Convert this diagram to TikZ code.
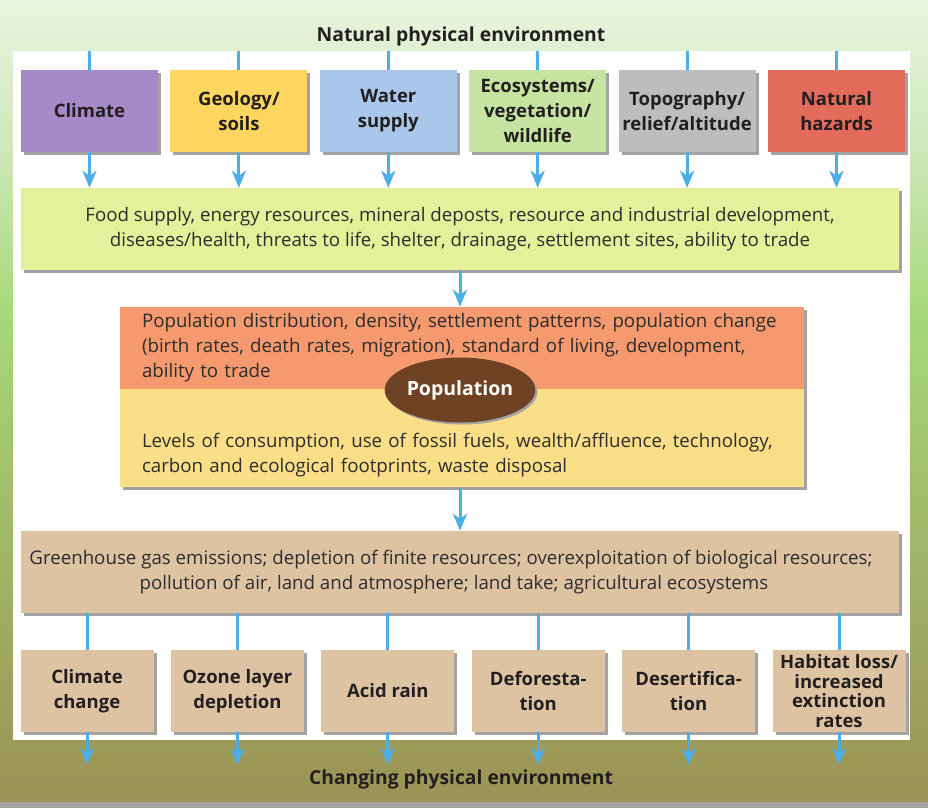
\documentclass[tikz,border=0pt]{standalone}
\usepackage{fontspec}
\setmainfont{Open Sans}
\usepackage{tikz}
\usetikzlibrary{
  positioning,
  arrows.meta,
  shapes.geometric,
  shadows
}
\definecolor{envtop}{RGB}{234,244,223}
\definecolor{envhigh}{RGB}{205,232,184}
\definecolor{envgreen}{RGB}{164,216,119}
\definecolor{envmid}{RGB}{160,180,104}
\definecolor{envolive}{RGB}{155,147,85}
\definecolor{shadowgray}{RGB}{163,163,163}
\definecolor{flowblue}{RGB}{77,174,229}
\definecolor{labeltext}{RGB}{35,31,32}
\definecolor{bodytext}{RGB}{45,45,45}
\definecolor{climatebg}{RGB}{166,137,200}
\definecolor{geologybg}{RGB}{253,213,95}
\definecolor{waterbg}{RGB}{169,199,234}
\definecolor{ecobg}{RGB}{198,227,162}
\definecolor{topobg}{RGB}{189,189,189}
\definecolor{hazardbg}{RGB}{227,107,91}
\definecolor{resourcebg}{RGB}{229,240,155}
\definecolor{popupper}{RGB}{245,154,111}
\definecolor{poplower}{RGB}{251,223,136}
\definecolor{impactbg}{RGB}{222,195,163}
\definecolor{popbrown}{RGB}{110,66,35}
% tikz fits the path onto 25bp--75bp of the shading
\pgfdeclareverticalshading{envshade}{100bp}{
  color(0bp)=(envolive); color(25bp)=(envolive); color(40bp)=(envmid);
  color(55bp)=(envgreen); color(65.5bp)=(envhigh); color(75bp)=(envtop);
  color(100bp)=(envtop)}
\tikzset{
  boxshadow/.style={
    drop shadow={shadow xshift=3pt, shadow yshift=-3pt, fill=shadowgray, opacity=1}
  },
  factorbox/.style={
    boxshadow, minimum width=137pt, minimum height=82pt, inner xsep=2pt,
    font=\fontsize{18.5}{25}\selectfont\bfseries, text=labeltext, align=center
  },
  widebox/.style={
    boxshadow, minimum width=878pt, minimum height=82pt,
    font=\fontsize{18.7}{25}\selectfont, text=bodytext, align=center
  },
  popbox/.style={
    boxshadow, minimum width=684pt, inner xsep=22pt, text width=640pt,
    font=\fontsize{18.7}{25}\selectfont, text=bodytext, align=left
  },
  issuebox/.style={
    boxshadow, fill=impactbg, minimum width=133pt, minimum height=82pt, inner xsep=2pt,
    font=\fontsize{18.5}{25}\selectfont\bfseries, text=labeltext, align=center
  },
  titletext/.style={
    font=\fontsize{19.3}{22}\selectfont\bfseries, text=labeltext
  },
  flowline/.style={
    draw=flowblue, line width=3pt
  },
  flowarrow/.style={
    flowline, -{Stealth[length=17pt, width=14pt, inset=5pt]}
  }
}

\begin{document}
\begin{tikzpicture}[x=1pt, y=-1pt]
  \useasboundingbox (0,0) rectangle (928,808);

  % frame
  \fill[shadowgray] (0,801) rectangle (928,808);
  \shade[shading=envshade] (0,0) rectangle (928,801);
  \node[fill=white, minimum width=897pt, minimum height=689pt, inner sep=0pt] (panel) at (461.5,395.5) {};
  \coordinate (outEdge) at (0,765);

  \node[titletext] (topTitle) at (461,36) {Natural physical environment};
  \node[titletext] (bottomTitle) at (461,779) {Changing physical environment};

  % physical factors
  \node[factorbox, fill=climatebg] (f1) at (89.5,111) {Climate};
  \node[factorbox, fill=geologybg, right=12pt of f1] (f2) {Geology/\\soils};
  \node[factorbox, fill=waterbg, right=12pt of f2] (f3) {Water\\supply};
  \node[factorbox, fill=ecobg, right=12pt of f3] (f4) {Ecosystems/\\vegetation/\\wildlife};
  \node[factorbox, fill=topobg, right=12pt of f4] (f5) {Topography/\\relief/altitude};
  \node[factorbox, fill=hazardbg, right=12pt of f5] (f6) {Natural\\hazards};

  \node[widebox, fill=resourcebg] (food) at (460,229) {
    Food supply, energy resources, mineral deposts, resource and industrial development,\\
    diseases/health, threats to life, shelter, drainage, settlement sites, ability to trade
  };

  % population
  \node[popbox, fill=popupper, minimum height=82pt] (popTop) at (462,348) {
    Population distribution, density, settlement patterns, population change\\
    (birth rates, death rates, migration), standard of living, development,\\
    ability to trade
  };
  \node[popbox, fill=poplower, minimum height=98pt, below=0pt of popTop] (popBot) {
    \mbox{}\\[22pt]
    Levels of consumption, use of fossil fuels, wealth/affluence, technology,\\
    carbon and ecological footprints, waste disposal
  };
  \node[ellipse, fill=popbrown, minimum width=144pt, minimum height=65pt, inner sep=0pt,
    drop shadow={shadow xshift=2pt, shadow yshift=-2pt, fill=shadowgray, opacity=1},
    text=white, font=\fontsize{19.5}{22}\selectfont\bfseries] (popEll) at (460,390) {Population};

  \node[widebox, fill=impactbg] (ghg) at (460,572) {
    Greenhouse gas emissions; depletion of finite resources; overexploitation of biological resources;\kern18pt\\
    pollution of air, land and atmosphere; land take; agricultural ecosystems\kern12pt
  };

  % impacts
  \node[issuebox] (i1) at (87,691) {Climate\\change};
  \node[issuebox, right=17pt of i1] (i2) {Ozone layer\\depletion};
  \node[issuebox, right=17pt of i2] (i3) {Acid rain};
  \node[issuebox, right=17pt of i3] (i4) {Deforesta-\\tion};
  \node[issuebox, right=17pt of i4] (i5) {Desertifica-\\tion};
  \node[issuebox, right=17pt of i5, font=\fontsize{18.5}{19.5}\selectfont\bfseries] (i6) {Habitat loss/\\increased\\extinction\\rates};

  \draw[flowline] (f1.north |- panel.north) -- (f1.north);
  \draw[flowline] (f2.north |- panel.north) -- (f2.north);
  \draw[flowline] (f3.north |- panel.north) -- (f3.north);
  \draw[flowline] (f4.north |- panel.north) -- (f4.north);
  \draw[flowline] (f5.north |- panel.north) -- (f5.north);
  \draw[flowline] (f6.north |- panel.north) -- (f6.north);

  \draw[flowarrow] (f1.south) -- (f1.south |- food.north);
  \draw[flowarrow] (f2.south) -- (f2.south |- food.north);
  \draw[flowarrow] (f3.south) -- (f3.south |- food.north);
  \draw[flowarrow] (f4.south) -- (f4.south |- food.north);
  \draw[flowarrow] (f5.south) -- (f5.south |- food.north);
  \draw[flowarrow] (f6.south) -- (f6.south |- food.north);

  \draw[flowarrow] (food.south -| popEll) -- (popEll |- popTop.north);
  \draw[flowarrow] (popBot.south -| popEll) -- (popEll |- ghg.north);

  \draw[flowline] (i1.north |- ghg.south) -- (i1.north);
  \draw[flowline] (i2.north |- ghg.south) -- (i2.north);
  \draw[flowline] (i3.north |- ghg.south) -- (i3.north);
  \draw[flowline] (i4.north |- ghg.south) -- (i4.north);
  \draw[flowline] (i5.north |- ghg.south) -- (i5.north);
  \draw[flowline] (i6.north |- ghg.south) -- (i6.north);

  \draw[flowarrow] (i1.south) -- (i1.south |- outEdge);
  \draw[flowarrow] (i2.south) -- (i2.south |- outEdge);
  \draw[flowarrow] (i3.south) -- (i3.south |- outEdge);
  \draw[flowarrow] (i4.south) -- (i4.south |- outEdge);
  \draw[flowarrow] (i5.south) -- (i5.south |- outEdge);
  \draw[flowarrow] (i6.south) -- (i6.south |- outEdge);
\end{tikzpicture}
\end{document}
